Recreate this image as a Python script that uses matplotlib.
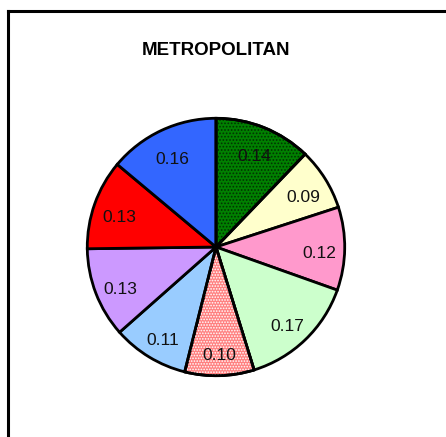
import matplotlib
matplotlib.use("Agg")
import matplotlib.pyplot as plt
from matplotlib.patches import Wedge
from matplotlib.lines import Line2D

plt.rcParams['font.family'] = ['Liberation Sans', 'DejaVu Sans']
plt.rcParams['hatch.linewidth'] = 0.8

title = "METROPOLITAN"
values = [0.14, 0.09, 0.12, 0.17, 0.10, 0.11, 0.13, 0.13, 0.16]
labels = ["0.14", "0.09", "0.12", "0.17", "0.10", "0.11", "0.13", "0.13", "0.16"]
colors = ["#008000", "#FFFFCC", "#FF99CC", "#CCFFCC", "#FF8080",
          "#99CCFF", "#CC99FF", "#FF0000", "#3366FF"]
hatch_colors = {0: "#003300", 4: "#FFFFFF"}
hatches = {0: '.....', 4: '......'}

W, H = 446, 437
fig = plt.figure(figsize=(W / 100, H / 100), dpi=100)
fig.patch.set_facecolor('white')

cx, cy, r = 216, 437 - 247, 130
ax = fig.add_axes([(cx - r) / W, (cy - r) / H, 2 * r / W, 2 * r / H])

wedges, texts = ax.pie(values, colors=colors, startangle=90, counterclock=False,
                       labels=labels, labeldistance=0.8,
                       wedgeprops=dict(edgecolor='black', linewidth=2),
                       textprops=dict(fontsize=12.5, color='#111111', ha='center', va='center'))
shift = 5.5 / r
for t in texts:
    t.set_horizontalalignment('center')
    t.set_verticalalignment('center')
    x, y = t.get_position()
    t.set_position((x, y - shift))

for i, hc in hatch_colors.items():
    w = wedges[i]
    hw = Wedge(w.center, w.r, w.theta1, w.theta2, facecolor='none', edgecolor=hc,
               hatch=hatches[i], linewidth=0, zorder=w.get_zorder() + 0.1)
    ax.add_patch(hw)
    ew = Wedge(w.center, w.r, w.theta1, w.theta2, facecolor='none', edgecolor='black',
               linewidth=2, zorder=w.get_zorder() + 0.2)
    ax.add_patch(ew)

ax.set_xlim(-1.01, 1.01)
ax.set_ylim(-1.01, 1.01)
ax.set_aspect('equal')
ax.axis('off')

fig.text(216 / W, 1 - 50.5 / H, title, ha='center', va='center', fontsize=13.5,
         fontweight='bold', color='black')

x0 = 8 / W
y0 = 1 - 11 / H
fig.add_artist(Line2D([x0, x0], [-0.05, y0], transform=fig.transFigure, color='black', lw=2.2, clip_on=False))
fig.add_artist(Line2D([x0, 1.05], [y0, y0], transform=fig.transFigure, color='black', lw=2.2, clip_on=False))

fig.savefig("out.png", dpi=100, facecolor='white')
